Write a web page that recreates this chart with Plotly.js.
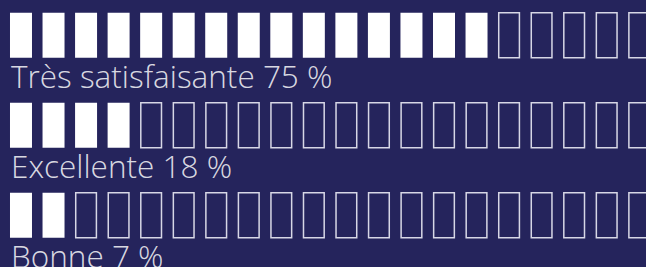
<!DOCTYPE html>
<html>
<head>
<meta charset="utf-8">
<script src="https://cdn.plot.ly/plotly-3.0.1.min.js"></script>
<style>
html,body{margin:0;padding:0;background:#25245c;}
#chart{width:646px;height:267px;}
</style>
</head>
<body>
<div id="chart"></div>
<script>
// Data
var categories = ['Très satisfaisante', 'Excellente', 'Bonne'];
var percentages = [75, 18, 7];
var filledSquares = [15, 4, 2];
var squaresPerRow = 20;

var BG = '#25245c';
var traces = [];
var annotations = [];
var rowStep = 2; // row spacing in y units
var barWidth = 0.676;

for (var r = 0; r < categories.length; r++) {
  var base = -r * rowStep;
  var fx = [], ex = [];
  for (var i = 0; i < squaresPerRow; i++) {
    if (i < filledSquares[r]) fx.push(i); else ex.push(i);
  }
  traces.push({
    type: 'bar', x: fx, y: fx.map(function(){return 1;}),
    base: fx.map(function(){return base;}),
    width: barWidth,
    marker: {color: '#ffffff', line: {width: 0}},
    hoverinfo: 'skip', showlegend: false
  });
  traces.push({
    type: 'bar', x: ex, y: ex.map(function(){return 1;}),
    base: ex.map(function(){return base;}),
    width: barWidth - 0.04,
    marker: {color: 'rgba(0,0,0,0)', line: {width: 1.5, color: 'rgba(235,235,245,0.9)'}},
    hoverinfo: 'skip', showlegend: false
  });
  annotations.push({
    x: -barWidth / 2, y: base + 0.1, xref: 'x', yref: 'y',
    xanchor: 'left', yanchor: 'top', showarrow: false,
    text: categories[r] + ' ' + percentages[r] + ' %',
    font: {family: 'Open Sans', size: 31.5, color: 'rgba(235,235,240,0.92)', weight: 300},
    borderpad: 0
  });
}

var layout = {
  width: 646, height: 267,
  margin: {l: 0, r: 0, t: 0, b: 0, pad: 0},
  paper_bgcolor: BG, plot_bgcolor: BG,
  barmode: 'overlay',
  xaxis: {range: [-0.645, 19.208], visible: false, fixedrange: true},
  yaxis: {range: [-4.651, 1.282], visible: false, fixedrange: true},
  annotations: annotations,
  showlegend: false
};

Plotly.newPlot('chart', traces, layout, {displayModeBar: false, staticPlot: true});
</script>
</body>
</html>
